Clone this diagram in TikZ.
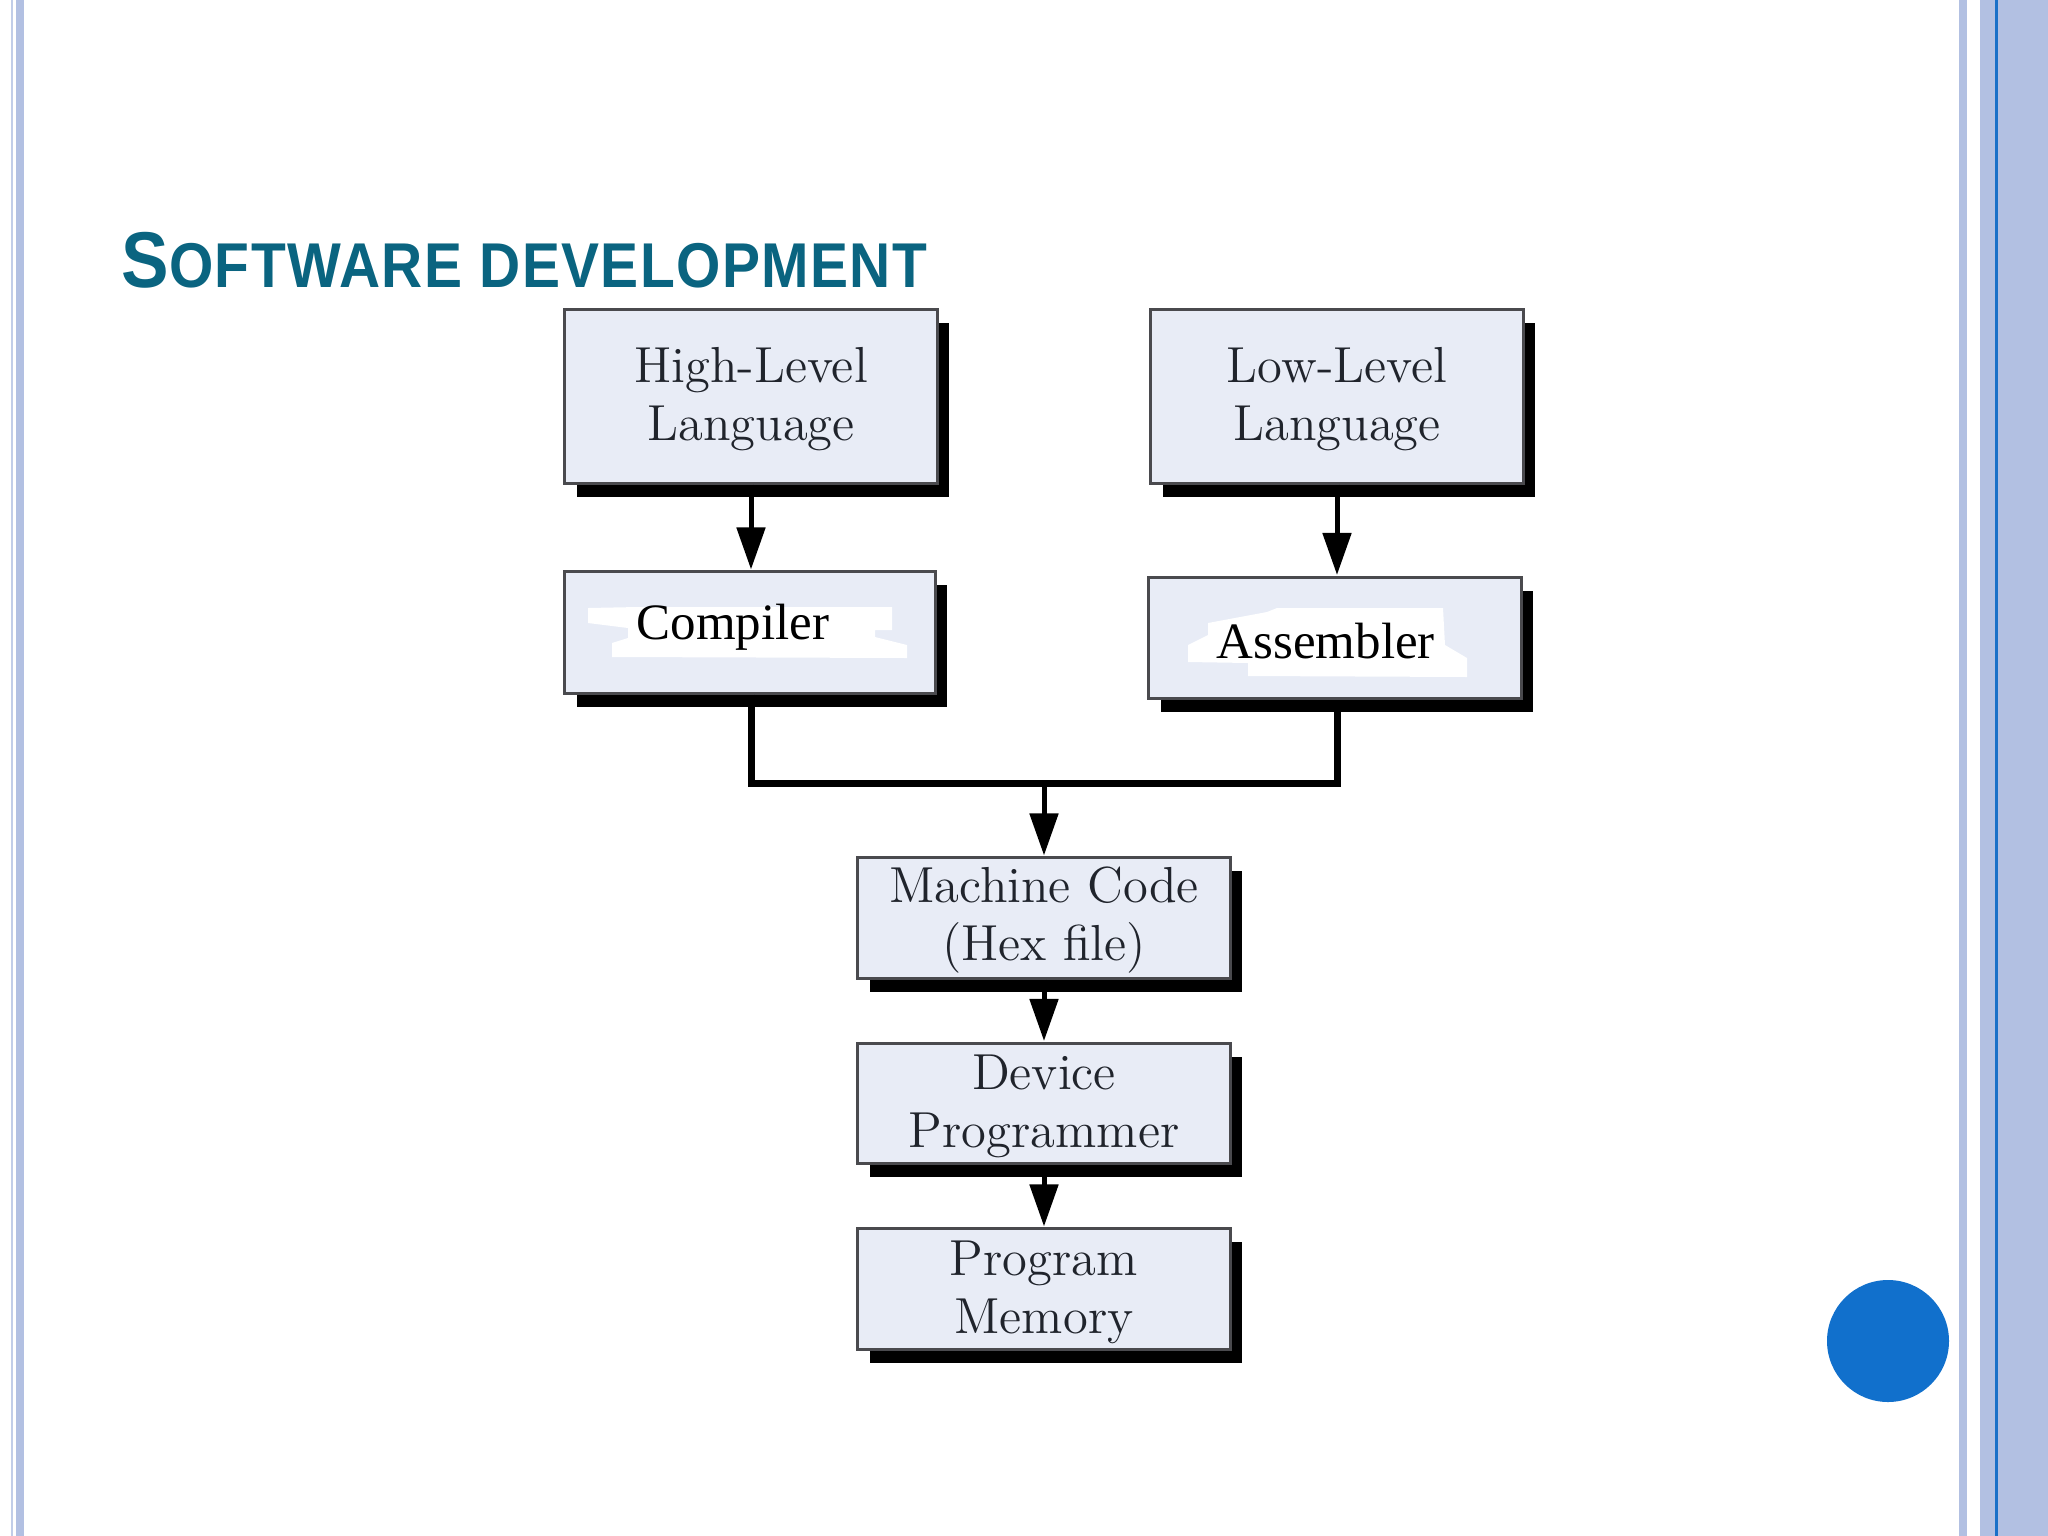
\documentclass[tikz,border=0pt]{standalone}
\usepackage{fontspec}
\usepackage{tikz}
\usetikzlibrary{calc}
\usetikzlibrary{arrows.meta}
\usetikzlibrary{shadows}
\newfontfamily\titlefont[FakeStretch=.9,LetterSpace=2.2]{Liberation Sans}
\newfontfamily\patchfont{Liberation Serif}
\newcommand{\boxlift}{\rule{0pt}{11.5pt}}
\definecolor{barblue}{HTML}{B2C0E2}
\definecolor{linkblue}{HTML}{1A70C8}
\definecolor{dotblue}{HTML}{1170CC}
\definecolor{titleteal}{HTML}{0A6480}
\definecolor{boxfill}{HTML}{E8ECF6}
\definecolor{boxedge}{HTML}{4A4A4E}
\definecolor{boxtext}{HTML}{20242C}
\tikzset{
  flowbox/.style={draw=boxedge, line width=.03cm, fill=boxfill, minimum width=3.72cm, text=boxtext, align=center, inner sep=0pt,
    font=\fontsize{14.4}{16.5}\selectfont,
    general shadow={fill=black, shadow xshift=.12cm, shadow yshift=-.135cm}},
  flowarrow/.style={line width=.05cm, -{Triangle[length=.42cm,width=.28cm]}, shorten >=.01cm},
  patchtext/.style={font=\fontsize{14.5}{16}\patchfont, text=black, inner sep=0pt, anchor=base west},
}
\begin{document}
\begin{tikzpicture}[x=.01cm, y=-.01cm]
\useasboundingbox (0,0) rectangle (2048,1536);
\fill[white] (0,0) rectangle (2048,1536);

\fill[barblue!80!white] (11,0) rectangle (13,1536);
\fill[barblue] (16,0) rectangle (24,1536);
\fill[barblue] (1959,0) rectangle (1967,1536);
\fill[barblue] (1980,0) rectangle (2048,1536);
\fill[linkblue] (1995,0) rectangle (1998,1536);

\node[anchor=base west, inner sep=0pt, text=titleteal] (title) at (121,287)
  {\titlefont\bfseries\fontsize{22.5}{24}\selectfont S\fontsize{18}{24}\selectfont OFTWARE DEVELOPMENT};

\node[flowbox, minimum height=1.73cm] (high) at (751,396.5) {\boxlift High-Level\\Language};
\node[flowbox, minimum height=1.73cm] (low) at (1337,396.5) {\boxlift Low-Level\\Language};
\node[flowbox, minimum width=3.70cm, minimum height=1.21cm] (compiler) at (750,632.5) {};
\node[flowbox, minimum height=1.21cm] (assembler) at (1335,638) {};
\node[flowbox, minimum height=1.20cm] (machine) at (1044,918) {\boxlift Machine Code\\(Hex file)};
\node[flowbox, minimum height=1.20cm] (device) at (1044,1103.5) {\boxlift Device\\Programmer};
\node[flowbox, minimum height=1.20cm] (memory) at (1044,1289) {\boxlift Program\\Memory};

\fill[white] (588,608) -- (638,607) -- (892,607) -- (892,630) -- (875,630) -- (875,637) -- (907,645) -- (907,658)
  -- (612,657) -- (612,643) -- (628,638) -- (628,628) -- (588,623) -- cycle;
\fill[white] (1188,662) -- (1188,645) -- (1208,635) -- (1208,623) -- (1267,612) -- (1277,608) -- (1443,608) -- (1445,645)
  -- (1467,658) -- (1467,677) -- (1248,676) -- (1248,663) -- cycle;
\node[patchtext] (compilertext) at (636,639) {Compiler};
\node[patchtext] (assemblertext) at (1216,658) {Assembler};

\coordinate (busjoin) at (1044,783);

\draw[flowarrow] (high.south) -- (high.south |- compiler.north);
\draw[flowarrow] (low.south) -- (low.south |- assembler.north);
\draw[line width=.07cm] (high.south |- compiler.south) |- (busjoin) -| (low.south |- assembler.south);
\draw[flowarrow] (busjoin) -- (machine.north);
\draw[flowarrow] (machine.south) -- (device.north);
\draw[flowarrow] (device.south) -- (memory.north);

\fill[dotblue] (1888,1341) circle (61);
\end{tikzpicture}
\end{document}
